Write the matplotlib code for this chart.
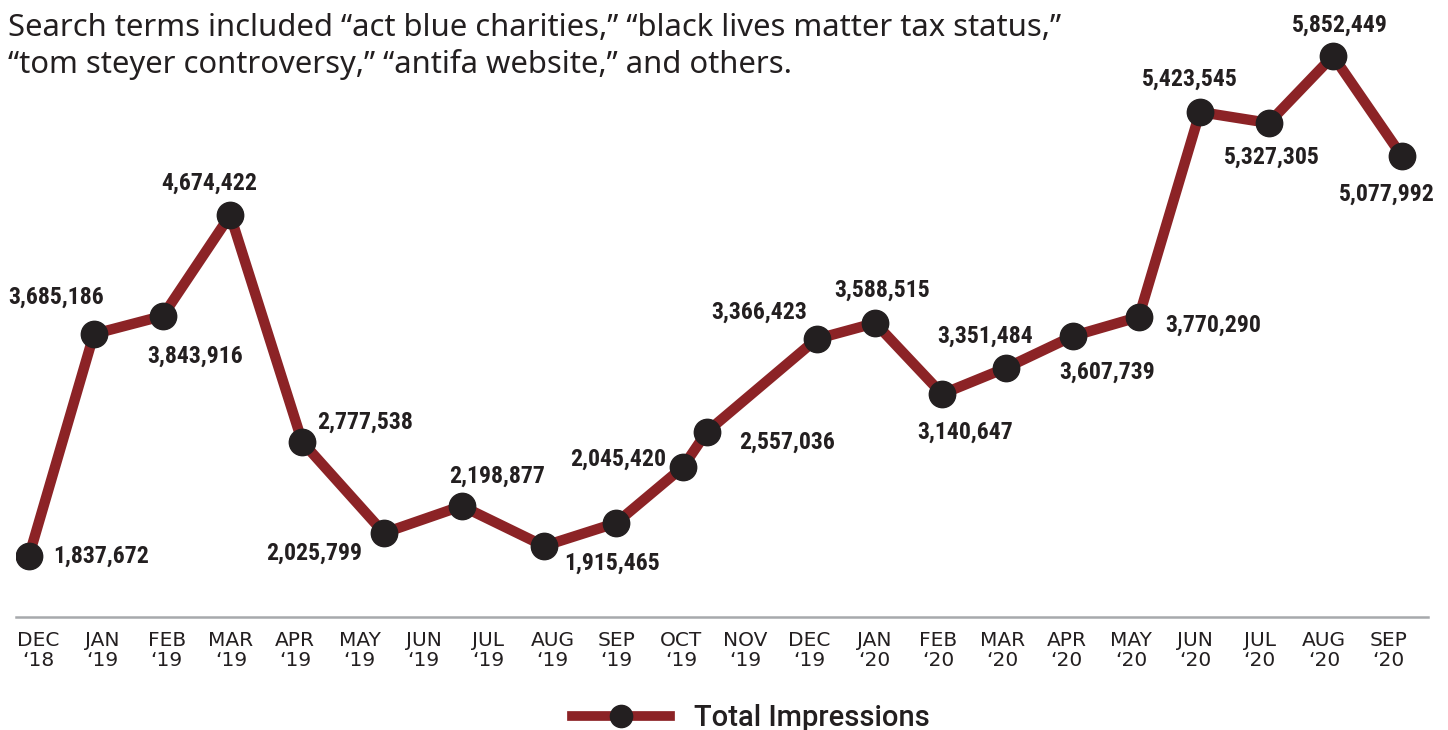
import matplotlib.pyplot as plt
from matplotlib import font_manager
from matplotlib.lines import Line2D

# x tick labels, one per month
months = ["DEC\n‘18", "JAN\n‘19", "FEB\n‘19", "MAR\n‘19", "APR\n‘19", "MAY\n‘19",
          "JUN\n‘19", "JUL\n‘19", "AUG\n‘19", "SEP\n‘19", "OCT\n‘19", "NOV\n‘19",
          "DEC\n‘19", "JAN\n‘20", "FEB\n‘20", "MAR\n‘20", "APR\n‘20", "MAY\n‘20",
          "JUN\n‘20", "JUL\n‘20", "AUG\n‘20", "SEP\n‘20"]

# where the dots sit (months after Dec '18) and their height (millions)
dot_month = [-0.14, 0.87, 1.94, 2.99, 4.11, 5.38, 6.59, 7.87, 8.99, 10.03, 10.40,
             12.11, 13.02, 14.06, 15.05, 16.10, 17.12, 18.07, 19.14, 20.14, 21.21]
impressions = [1.838, 3.624, 3.769, 4.581, 2.755, 2.023, 2.240, 1.918, 2.103, 2.554, 2.836,
               3.584, 3.712, 3.141, 3.350, 3.608, 3.761, 5.410, 5.322, 5.861, 5.056]

# printed values and the dot each one is attached to
label_text = ["1,837,672", "3,685,186", "3,843,916", "4,674,422", "2,777,538", "2,025,799",
              "2,198,877", "1,915,465", "2,045,420", "2,557,036", "3,366,423", "3,588,515",
              "3,140,647", "3,351,484", "3,607,739", "3,770,290", "5,423,545", "5,327,305",
              "5,852,449", "5,077,992"]
label_dot = [0, 1, 2, 3, 4, 5, 6, 7, 9, 10, 11, 12, 13, 14, 15, 16, 17, 18, 19, 20]

# label centre relative to its dot, pixels (right, down)
offsets = [(72, -2), (-38, -39), (32, 38), (-21, -34), (63, -22), (-70, 18), (35, -32),
           (68, 15), (-65, -10), (80, 8), (-57, -29), (7, -35), (23, 36), (-21, -34),
           (34, 34), (74, 6), (-10, -35), (3, 32), (7, -33), (-15, 36)]

dark = "#231f20"
red = "#8c2326"

# pick a narrow face for the numbers if one is installed
names = sorted({f.name for f in font_manager.fontManager.ttflist})
narrow = None
for n in ["Liberation Sans Narrow", "Noto Sans Condensed", "Roboto Condensed",
          "DejaVu Sans Condensed", "Open Sans Condensed"]:
    if n in names:
        narrow = n
        break
if narrow is None:
    extra = [n for n in names if "Condensed" in n or "Narrow" in n]
    narrow = extra[0] if extra else "Roboto"

fig = plt.figure(figsize=(14.48, 7.30), dpi=100)
renderer = fig.canvas.get_renderer()


def fit_size(txt, target_px, size, **kw):
    # font size that makes txt about target_px wide
    t = fig.text(0, 0, txt, fontsize=size, **kw)
    w = t.get_window_extent(renderer=renderer).width
    t.remove()
    return size * target_px / w


num_size = min(21, fit_size("4,674,422", 96, 20, fontweight="bold", family=narrow))
half_cap = 0.36 * num_size * 100 / 72

ax = fig.add_axes([16 / 1448, 113 / 730, 1412 / 1448, 617 / 730])

ax.plot(dot_month, impressions, color=red, lw=7.5, solid_joinstyle="miter", zorder=2)
ax.plot(dot_month, impressions, "o", color=dark, ms=19, zorder=3)

for txt, i, (dx, dy) in zip(label_text, label_dot, offsets):
    ax.annotate(txt, (dot_month[i], impressions[i]), xytext=(dx, -(dy + half_cap)),
                textcoords="offset pixels", ha="center", va="baseline",
                fontsize=num_size, fontweight="bold", color=dark,
                family=[narrow, "DejaVu Sans"])

ax.set_xlim(-0.342, 21.617)
ax.set_ylim(1.347, 6.311)
ax.set_xticks(range(len(months)))
ax.set_xticklabels(months, fontsize=14.5, color=dark, linespacing=1.08,
                   family=["DejaVu Sans"])
ax.tick_params(axis="x", length=0, pad=10)
ax.set_yticks([])
for s in ["left", "right", "top"]:
    ax.spines[s].set_visible(False)
ax.spines["bottom"].set_color("#a7a9ac")
ax.spines["bottom"].set_linewidth(1.8)

title_font = ["Noto Sans", "DejaVu Sans"]
line1 = "Search terms included “act blue charities,” “black lives matter tax status,”"
line2 = "“tom steyer controversy,” “antifa website,” and others."
title_size = fit_size(line1, 1054, 20, family=title_font)
fig.text(8 / 1448, 1 - 36 / 730, line1, ha="left", va="baseline", fontsize=title_size,
         color=dark, family=title_font)
fig.text(8 / 1448, 1 - 73 / 730, line2, ha="left", va="baseline", fontsize=title_size,
         color=dark, family=title_font)

leg_font = ["Roboto", "DejaVu Sans"]
leg_size = fit_size("Total Impressions", 235, 18, fontweight="medium", family=leg_font)
handle = Line2D([], [], color=red, lw=7, marker="o", ms=16, markerfacecolor=dark,
                markeredgecolor=dark)
leg = fig.legend([handle], ["Total Impressions"], loc="center",
                 bbox_to_anchor=(751 / 1448, 12 / 730), frameon=False,
                 handlelength=98 / (leg_size * 100 / 72), handletextpad=0.8,
                 prop={"family": leg_font, "weight": "medium", "size": leg_size})
for t in leg.get_texts():
    t.set_color(dark)

fig.savefig("out.png", dpi=100)
